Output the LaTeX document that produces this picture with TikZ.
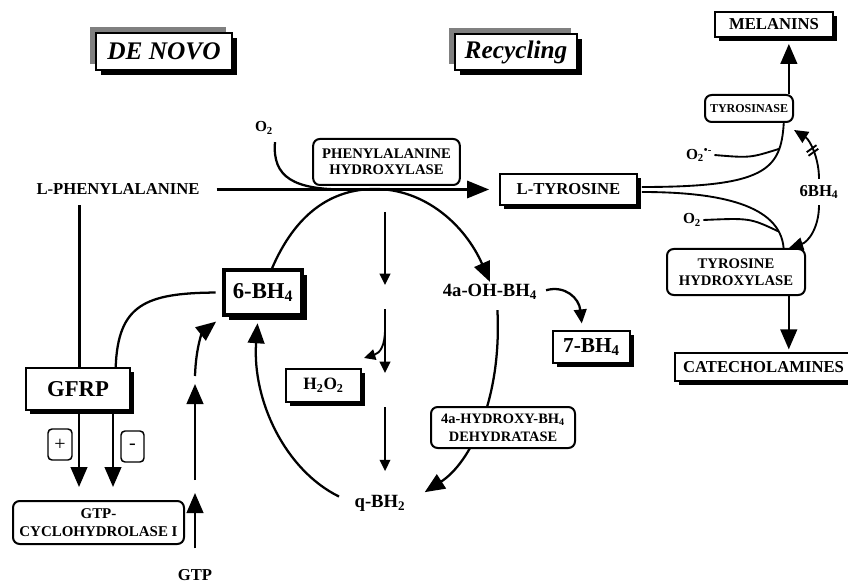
\documentclass[tikz,border=0pt]{standalone}
\usepackage{fontspec}
\setmainfont{Liberation Serif}
\usetikzlibrary{arrows.meta,shadows,patterns,calc}
\newcommand\myfs[2]{\fontsize{#1}{#2}\selectfont\bfseries}
\begin{document}
\begin{tikzpicture}[x=0.75pt,y=-0.75pt,line width=1.7pt,
  every node/.style={inner sep=1pt},
  lbl/.style={font=\myfs{12.5}{14}},
  rbox/.style={draw,fill=white,rounded corners=5pt,align=center,inner sep=0pt,line width=1.5pt},
  sbox/.style={draw,fill=white,align=center,inner sep=0pt,line width=1.4pt,
    drop shadow={fill=black,opacity=1,shadow xshift=3pt,shadow yshift=-3pt}},
  thickbox/.style={draw,fill=white,align=center,inner sep=0pt,line width=2.4pt,
    drop shadow={fill=black,opacity=1,shadow xshift=4pt,shadow yshift=-4pt}},
  hdr/.style={draw,fill=white,inner sep=0pt,line width=1pt,
    general shadow={fill=black!50,shadow xshift=-4.5pt,shadow yshift=4.5pt},
    general shadow={fill=black,shadow xshift=4pt,shadow yshift=-4pt}},
  tipMain/.style={-{Triangle[length=16.5pt,width=13pt]}},
  tipL/.style={-{Triangle[length=15pt,width=12.5pt]}},
  tipM/.style={-{Triangle[length=10.5pt,width=9.5pt]}},
  tipS/.style={-{Triangle[length=8.5pt,width=8pt]}},
  fine/.style={line width=1.4pt},
]
\useasboundingbox (0,0) rectangle (848,584);

% headers
\node[hdr,minimum width=102pt,minimum height=27.75pt,font=\myfs{19}{22}\itshape] (denovo) at (164,51.5) {DE NOVO};
\node[hdr,minimum width=91.5pt,minimum height=27pt,font=\myfs{19}{22}\itshape] (recyc) at (516,52) {Recycling};

% nodes
\node[lbl] (lphe) at (118,189.5) {L-PHENYLALANINE};
\node[rbox,minimum width=110pt,minimum height=34.5pt,font=\myfs{11}{12}] (phh) at (386.5,162) {PHENYLALANINE\\HYDROXYLASE};
\node[sbox,minimum width=102.75pt,minimum height=23.25pt,font=\myfs{12.5}{14}] (ltyr) at (568.5,189.5) {L-TYROSINE};
\node[sbox,minimum width=88.5pt,minimum height=18.75pt,font=\myfs{12.5}{14}] (mel) at (774,24.5) {MELANINS};
\node[rbox,minimum width=66pt,minimum height=20.25pt,font=\myfs{9}{10}] (tyrase) at (749,108.5) {TYROSINASE};
\node[rbox,minimum width=103.5pt,minimum height=34.5pt,font=\myfs{11}{12.75}] (thyd) at (736,272) {TYROSINE\\HYDROXYLASE};
\node[sbox,minimum width=132.75pt,minimum height=21pt,font=\myfs{12.5}{14}] (cat) at (763.5,367) {CATECHOLAMINES};
\node[thickbox,minimum width=58.5pt,minimum height=33.75pt,font=\myfs{17}{18}] (sixbh) at (263,292.5) {6-BH\textsubscript{4}};
\node[sbox,minimum width=78pt,minimum height=31.5pt,font=\myfs{17}{19}] (gfrp) at (78,389) {GFRP};
\node[rbox,minimum width=128.25pt,minimum height=32.25pt,font=\myfs{11.2}{13.5}] (cyclo) at (98.5,522.5) {GTP-\\CYCLOHYDROLASE I};
\node[rbox,rounded corners=3pt,line width=1.1pt,minimum width=18pt,minimum height=23.25pt,font=\fontsize{15}{16}\selectfont] (plus) at (60,444.5) {+};
\node[rbox,rounded corners=3pt,line width=1.1pt,minimum width=17.25pt,minimum height=23.25pt,font=\fontsize{15}{16}\selectfont] (minus) at (132.5,446.5) {-};
\node[lbl] (gtp) at (195,575) {GTP};
\node[sbox,minimum width=56.25pt,minimum height=24.75pt,font=\myfs{13}{15}] (h2o2) at (323.5,385.5) {H\textsubscript{2}O\textsubscript{2}};
\node[font=\myfs{14}{16}] (ohbh4) at (490,292) {4a-OH-BH\textsubscript{4}};
\node[sbox,minimum width=57.75pt,minimum height=24pt,font=\myfs{16}{17}] (sevbh) at (591.5,347) {7-BH\textsubscript{4}};
\node[font=\myfs{14}{16}] (qbh2) at (380,503) {q-BH\textsubscript{2}};
\node[font=\myfs{11.5}{12}] (o2a) at (264,128) {O\textsubscript{2}};
\node[font=\myfs{11.5}{12}] (o2rad) at (699,155) {O\textsubscript{2}\textsuperscript{•-}};
\node[font=\myfs{11.5}{12}] (o2b) at (692,220) {O\textsubscript{2}};
\node[font=\myfs{12.5}{14},inner ysep=4pt] (sixr) at (819,192) {6BH\textsubscript{4}};

% main reaction
\draw[tipMain,shorten <=11pt,shorten >=7.5pt] (lphe.east) -- (lphe.east -| ltyr.west);
\coordinate (o2m) at (345,189.5);
\draw[shorten <=4pt] (o2a.south east) .. controls (272,178) and (295,189.5) .. (o2m);

% big top arc 6-BH4 -> 4a-OH-BH4
\coordinate (s6t) at ($(sixbh.north)+(9,0)$);
\draw[tipL] (s6t) .. controls (295,215) and (330,189) .. (375,189) .. controls (425,189) and (465,225) .. (ohbh4.north);

% GFRP and L-Phe
\coordinate (gf1) at ($(gfrp.north west)!0.856!(gfrp.north east)$);
\draw[shorten >=5pt] (gf1) .. controls (118,305) and (145,293) .. (sixbh.west);
\coordinate (lv) at ($(lphe.south west)!0.27!(lphe.south east)$);
\draw[shorten <=6pt] (lv) -- (lv |- gfrp.north);
\coordinate (gd1) at ($(gfrp.south)+(1,0)$);
\coordinate (gd2) at ($(gfrp.south)+(35,0)$);
\draw[tipL,shorten >=9.75pt] (gd1) -- (gd1 |- cyclo.north);
\draw[tipL,shorten >=9.75pt] (gd2) -- (gd2 |- cyclo.north);

% GTP chain
\coordinate (gt1) at (195,493);
\coordinate (gt2) at (195,480);
\coordinate (gt3) at (195,384);
\coordinate (gt4) at (195,376);
\draw[tipL,shorten <=14pt] (gtp.north) -- (gt1);
\draw[tipL] (gt2) -- (gt3);
\draw[tipL,shorten >=6pt] (gt4) .. controls (196,345) and (203,332) .. (sixbh.south west);

% q-BH2 -> 6-BH4
\coordinate (s6b) at ($(sixbh.south)+(-5,0)$);
\draw[tipL,shorten <=11pt,shorten >=5pt] (qbh2.west) .. controls (285,470) and (252,400) .. (s6b);

% vertical chain
\coordinate (v1) at (385,212);
\coordinate (v2) at (385,285);
\coordinate (v3) at (385,309);
\coordinate (v4) at (385,373);
\coordinate (v5) at (385,407);
\coordinate (v7) at (385,329);
\coordinate (h2t) at (364,358);
\draw[fine,tipS] (v1) -- (v2);
\draw[fine,tipS] (v3) -- (v4);
\draw[fine,tipS] (v7) .. controls (385,346) and (380,353) .. (h2t);
\draw[fine,tipS,shorten >=16pt] (v5) -- (v5 |- qbh2.north);

% 4a-OH-BH4 -> 7-BH4
\coordinate (s7t) at ($(sevbh.north)+(-9,0)$);
\draw[tipM,shorten <=5pt,shorten >=5pt] (ohbh4.east) .. controls (565,285) and (579,298) .. (s7t);

% right arc through dehydratase
\coordinate (oh1) at ($(ohbh4.south)+(7,0)$);
\draw[tipL,shorten <=6pt,shorten >=15pt] (oh1) .. controls (502,400) and (470,463) .. (qbh2.east);

% tyrosine branches
\coordinate (ty1) at ($(ltyr.east)+(0,-2.5)$);
\coordinate (ty2) at ($(ltyr.east)+(0,2.5)$);
\coordinate (tz1) at ($(tyrase.south west)!0.886!(tyrase.south east)$);
\coordinate (th1) at ($(thyd.north west)!0.84!(thyd.north east)$);
\coordinate (j1) at (779.3,148.8);
\coordinate (j2) at (778,231.2);
\draw[fine,shorten <=3pt] (ty1) .. controls (765,187) and (781,170) .. (tz1);
\draw[fine,shorten <=3pt] (ty2) .. controls (720,192) and (780,205) .. (th1);
\draw[fine] (o2rad.east) .. controls (750,158) .. (j1);
\draw[fine] (o2b.east) .. controls (750,218) .. (j2);

% 6BH4 arcs
\coordinate (tzt) at (794,130);
\coordinate (tht) at (789,248);
\draw[fine,tipM] (sixr.north) .. controls (819,158) and (810,140) .. (tzt);
\draw[fine,tipM] (sixr.south) .. controls (819,228) and (808,242) .. (tht);
\draw[fine] (808.5,155.8) -- (818.3,148.8);
\draw[fine] (806.7,152.2) -- (816.5,145.2);

% products
\coordinate (mt) at ($(tyrase.north west)!0.943!(tyrase.north east)$);
\draw[tipL,shorten >=4.5pt] (mt) -- (mt |- mel.south);
\coordinate (ct) at ($(thyd.south west)!0.877!(thyd.south east)$);
\draw[tipL,shorten >=2pt] (ct) -- (ct |- cat.north);

% dehydratase on top of the arc
\node[rbox,minimum width=108pt,minimum height=30.75pt,font=\myfs{10.8}{13.5}] (dehyd) at (503,427.5) {4a-HYDROXY-BH\textsubscript{4}\\DEHYDRATASE};
\end{tikzpicture}
\end{document}
